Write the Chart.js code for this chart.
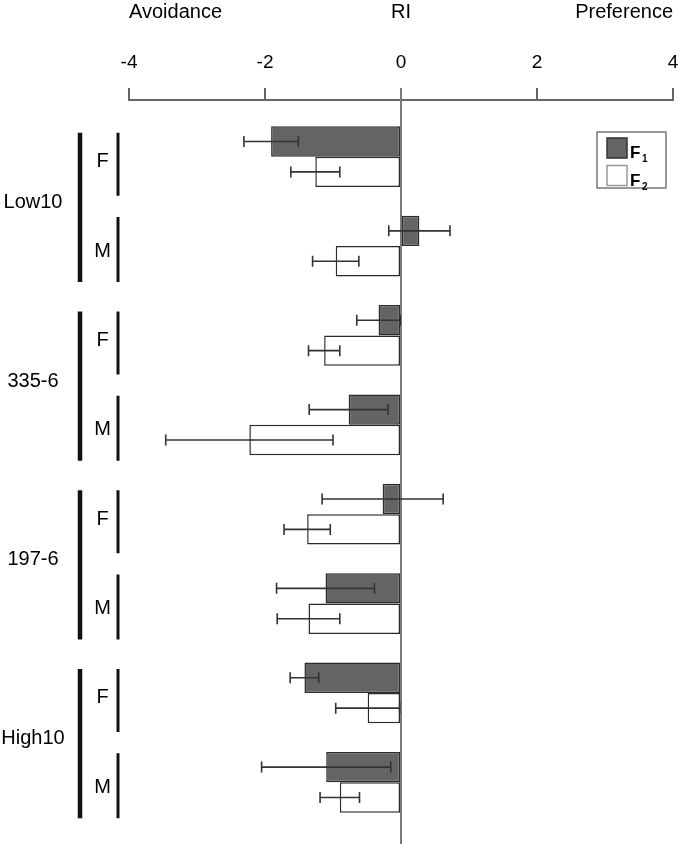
<!DOCTYPE html>
<html>
<head>
<meta charset="utf-8">
<script src="https://cdn.jsdelivr.net/npm/chart.js@4.4.1/dist/chart.umd.min.js"></script>
<style>
  body { margin: 0; background: #fff; }
  #wrap { width: 680px; height: 844px; }
</style>
</head>
<body>
<div id="wrap"><canvas id="chart"></canvas></div>
<script>
const groups = ['Low10', '335-6', '197-6', 'High10'];
const categories = ['F', 'M', 'F', 'M', 'F', 'M', 'F', 'M'];
const seriesNames = ['F1', 'F2'];
const f1Values = [-1.91, 0.27, -0.33, -0.77, -0.27, -1.11, -1.42, -1.10];
const f1Errors = [0.40, 0.45, 0.32, 0.58, 0.89, 0.72, 0.21, 0.95];
const f2Values = [-1.26, -0.96, -1.13, -2.23, -1.38, -1.36, -0.49, -0.90];
const f2Errors = [0.36, 0.34, 0.23, 1.23, 0.34, 0.46, 0.47, 0.29];
const xMin = -4, xMax = 4, xStep = 2;
const axisTitle = 'RI';
const leftTitle = 'Avoidance';
const rightTitle = 'Preference';

const FONT = "'Liberation Sans', Arial, sans-serif";
const TEXT = '#000';
const errors = [f1Errors, f2Errors];

// axis line sits 12px above the first bar band
const axisGap = {
  id: 'axisGap',
  afterLayout(chart) {
    chart.scales.x.bottom = chart.chartArea.top - 12;
  }
};

const zeroLine = {
  id: 'zeroLine',
  beforeDatasetsDraw(chart) {
    const ctx = chart.ctx;
    const x0 = chart.scales.x.getPixelForValue(0);
    ctx.save();
    ctx.strokeStyle = '#7a7a7a';
    ctx.lineWidth = 2;
    ctx.beginPath();
    ctx.moveTo(x0, chart.scales.x.bottom - 12);
    ctx.lineTo(x0, chart.height);
    ctx.stroke();
    ctx.restore();
  }
};

const errorBars = {
  id: 'errorBars',
  afterDatasetsDraw(chart) {
    const ctx = chart.ctx;
    const xs = chart.scales.x;
    ctx.save();
    ctx.strokeStyle = '#333';
    ctx.lineWidth = 1.6;
    chart.data.datasets.forEach((ds, i) => {
      chart.getDatasetMeta(i).data.forEach((bar, j) => {
        const v = ds.data[j], e = errors[i][j];
        const x1 = xs.getPixelForValue(v - e);
        const x2 = xs.getPixelForValue(v + e);
        ctx.beginPath();
        ctx.moveTo(x1, bar.y); ctx.lineTo(x2, bar.y);
        ctx.moveTo(x1, bar.y - 5.5); ctx.lineTo(x1, bar.y + 5.5);
        ctx.moveTo(x2, bar.y - 5.5); ctx.lineTo(x2, bar.y + 5.5);
        ctx.stroke();
      });
    });
    ctx.restore();
  }
};

const decorations = {
  id: 'decorations',
  afterDraw(chart) {
    const ctx = chart.ctx;
    const xs = chart.scales.x, ys = chart.scales.y;
    ctx.save();
    ctx.fillStyle = TEXT;
    ctx.textBaseline = 'middle';

    // side titles next to the axis title
    ctx.font = '20px ' + FONT;
    ctx.textAlign = 'left';
    ctx.fillText(leftTitle, xs.getPixelForValue(xMin), 12);
    ctx.textAlign = 'right';
    ctx.fillText(rightTitle, xs.getPixelForValue(xMax), 12);

    // group brackets and names
    ctx.strokeStyle = '#111';
    ctx.textAlign = 'center';
    groups.forEach((g, i) => {
      const yF = ys.getPixelForValue(2 * i);
      const yM = ys.getPixelForValue(2 * i + 1);
      ctx.lineWidth = 4.5;
      ctx.beginPath();
      ctx.moveTo(80, yF - 24); ctx.lineTo(80, yM + 36);
      ctx.stroke();
      ctx.lineWidth = 3;
      ctx.beginPath();
      ctx.moveTo(118, yF - 24); ctx.lineTo(118, yF + 39);
      ctx.moveTo(118, yM - 29); ctx.lineTo(118, yM + 36);
      ctx.stroke();
      ctx.fillText(g, 33, (yF + yM) / 2 + 1);
    });

    // legend box
    const bx = chart.chartArea.right - 76, by = chart.chartArea.top + 20;
    ctx.lineWidth = 1.5;
    ctx.strokeStyle = '#777';
    ctx.strokeRect(bx, by, 69, 56);
    chart.data.datasets.forEach((ds, i) => {
      const sy = by + 6 + i * 27.5;
      ctx.fillStyle = ds.backgroundColor;
      ctx.fillRect(bx + 10, sy, 20, 20);
      ctx.strokeStyle = i === 0 ? '#333' : '#999';
      ctx.strokeRect(bx + 10, sy, 20, 20);
      ctx.fillStyle = TEXT;
      ctx.textAlign = 'left';
      ctx.textBaseline = 'alphabetic';
      ctx.font = 'bold 17px ' + FONT;
      ctx.fillText(seriesNames[i].charAt(0), bx + 33, sy + 20);
      ctx.font = 'bold 10px ' + FONT;
      ctx.fillText(seriesNames[i].slice(1), bx + 45, sy + 24);
    });
    ctx.restore();
  }
};

new Chart(document.getElementById('chart'), {
  type: 'bar',
  data: {
    labels: categories,
    datasets: [{
      label: seriesNames[0],
      data: f1Values,
      backgroundColor: '#646464',
      borderColor: '#2b2b2b',
      borderWidth: 1.5,
      borderSkipped: false,
    }, {
      label: seriesNames[1],
      data: f2Values,
      backgroundColor: '#ffffff',
      borderColor: '#2b2b2b',
      borderWidth: 1.5,
      borderSkipped: false,
    }],
  },
  options: {
    indexAxis: 'y',
    responsive: true,
    maintainAspectRatio: false,
    animation: false,
    layout: { padding: { left: 80, right: 7, top: 0, bottom: 17 } },
    datasets: { bar: { categoryPercentage: 0.68, barPercentage: 1 } },
    plugins: { legend: { display: false }, tooltip: { enabled: false } },
    scales: {
      x: {
        position: 'top',
        min: xMin,
        max: xMax,
        afterFit: s => { s.height = 112; s.paddingLeft = 0; s.paddingRight = 0; },
        ticks: { stepSize: xStep, color: TEXT, font: { family: FONT, size: 19 }, padding: 14 },
        grid: { drawOnChartArea: false, drawTicks: true, tickLength: 12, color: '#666', lineWidth: 2 },
        border: { display: true, color: '#666', width: 2 },
        title: { display: true, text: axisTitle, color: TEXT, font: { family: FONT, size: 20 }, padding: 0 },
      },
      y: {
        afterFit: s => { s.width = 49; s.paddingTop = 0; s.paddingBottom = 0; },
        ticks: { color: TEXT, font: { family: FONT, size: 20 }, crossAlign: 'center', padding: 10, labelOffset: 5 },
        grid: { display: false },
        border: { display: false },
      },
    },
  },
  plugins: [axisGap, zeroLine, errorBars, decorations],
});
</script>
</body>
</html>
